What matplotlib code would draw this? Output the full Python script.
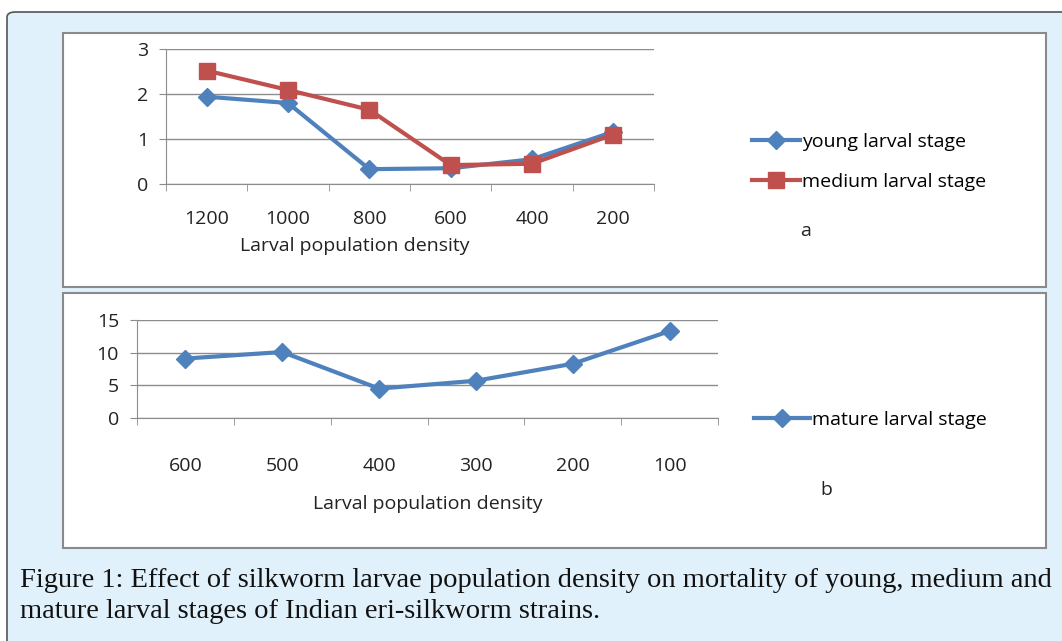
import matplotlib
matplotlib.use("Agg")
import matplotlib.pyplot as plt
from matplotlib.patches import FancyBboxPatch, Rectangle

# data
dens_a = ["1200", "1000", "800", "600", "400", "200"]
young = [1.94, 1.80, 0.33, 0.35, 0.55, 1.16]
medium = [2.52, 2.09, 1.65, 0.42, 0.45, 1.10]

dens_b = ["600", "500", "400", "300", "200", "100"]
mature = [9.1, 10.1, 4.5, 5.7, 8.3, 13.3]

caption = ("Figure 1: Effect of silkworm larvae population density on mortality of young, medium and\n"
           "mature larval stages of Indian eri-silkworm strains.")

BLUE = "#4F81BD"
RED = "#C0504D"
GRID = "#8C8C8C"
FS = 14

W, H = 1062, 641
plt.rcParams['font.family'] = ['Open Sans', 'DejaVu Sans']

fig = plt.figure(figsize=(W / 100, H / 100), dpi=100)


def box(x0, y0, x1, y1):
    # pixel box (top-left origin) -> figure fraction [l, b, w, h]
    return [x0 / W, 1 - y1 / H, (x1 - x0) / W, (y1 - y0) / H]


# light blue outer frame
l, b, w, h = box(7, 12, 1075, 660)
fig.patches.append(FancyBboxPatch((l, b), w, h, boxstyle="round,pad=0,rounding_size=0.008",
                                  transform=fig.transFigure, facecolor="#E0F1FB",
                                  edgecolor="#555555", linewidth=1.2, zorder=0))
# white panels
for y0, y1 in [(33, 287), (293, 548)]:
    l, b, w, h = box(63, y0, 1046, y1)
    fig.patches.append(Rectangle((l, b), w, h, transform=fig.transFigure, facecolor="white",
                                 edgecolor="#8A8A8A", linewidth=1.5, zorder=1))


def style_axes(ax, n, yticks, pad):
    ax.set_xlim(-0.5, n - 0.5)
    ax.set_ylim(yticks[0], yticks[-1])
    ax.set_yticks(yticks)
    ax.set_xticks(range(n))
    ax.set_xticks([i - 0.5 for i in range(n + 1)], minor=True)
    ax.tick_params(axis='x', which='major', length=0, pad=pad, labelsize=FS, colors="#222222")
    ax.tick_params(axis='x', which='minor', length=5, color=GRID, direction='out')
    ax.tick_params(axis='y', length=5, color=GRID, labelsize=FS, colors="#222222", pad=8)
    ax.grid(axis='y', color=GRID, linewidth=1)
    ax.set_axisbelow(True)
    for s in ['top', 'right']:
        ax.spines[s].set_visible(False)
    for s in ['left', 'bottom']:
        ax.spines[s].set_color(GRID)
    ax.patch.set_alpha(0)


# panel a
ax1 = fig.add_axes(box(166, 49, 654, 184))
ax1.set_zorder(2)
x = range(len(dens_a))
ln1, = ax1.plot(x, young, color=BLUE, lw=3, marker='D', ms=9, label="young larval stage")
ln2, = ax1.plot(x, medium, color=RED, lw=3, marker='s', ms=11, label="medium larval stage")
style_axes(ax1, len(dens_a), [0, 1, 2, 3], 19)
ax1.set_xticklabels(dens_a)
ax1.set_xlabel("Larval population density", fontsize=FS, color="#222222")
ax1.xaxis.set_label_coords((355 - 166) / (654 - 166), -(246 - 184) / (184 - 49))
ax1.xaxis.label.set_va('center')
ax1.legend(handles=[ln1, ln2], loc='center left', bbox_to_anchor=(744 / W, 1 - 162 / H),
           bbox_transform=fig.transFigure, frameon=False, fontsize=FS, handlelength=2.5,
           numpoints=1, labelspacing=1.15, handletextpad=0.1, borderaxespad=0)
fig.text(806 / W, 1 - 231 / H, "a", fontsize=FS, ha='center', va='center', color="#222222")

# panel b
ax2 = fig.add_axes(box(137, 320, 718, 418))
ax2.set_zorder(2)
ln3, = ax2.plot(range(len(dens_b)), mature, color=BLUE, lw=3, marker='D', ms=9,
                label="mature larval stage")
style_axes(ax2, len(dens_b), [0, 5, 10, 15], 28)
ax2.set_xticklabels(dens_b)
ax2.set_xlabel("Larval population density", fontsize=FS, color="#222222")
ax2.xaxis.set_label_coords((428 - 137) / (718 - 137), -(504 - 418) / (418 - 320))
ax2.xaxis.label.set_va('center')
ax2.legend(handles=[ln3], loc='center left', bbox_to_anchor=(746 / W, 1 - 420 / H),
           bbox_transform=fig.transFigure, frameon=False, fontsize=FS, handlelength=2.9,
           numpoints=1, handletextpad=0.1, borderaxespad=0)
fig.text(826 / W, 1 - 490 / H, "b", fontsize=FS, ha='center', va='center', color="#222222")

# caption
fig.text(20 / W, 1 - 596 / H, caption, fontsize=20.5, family='Liberation Serif', ha='left',
         va='center', linespacing=1.3, color="#111111")

fig.savefig("out.png", dpi=100)
